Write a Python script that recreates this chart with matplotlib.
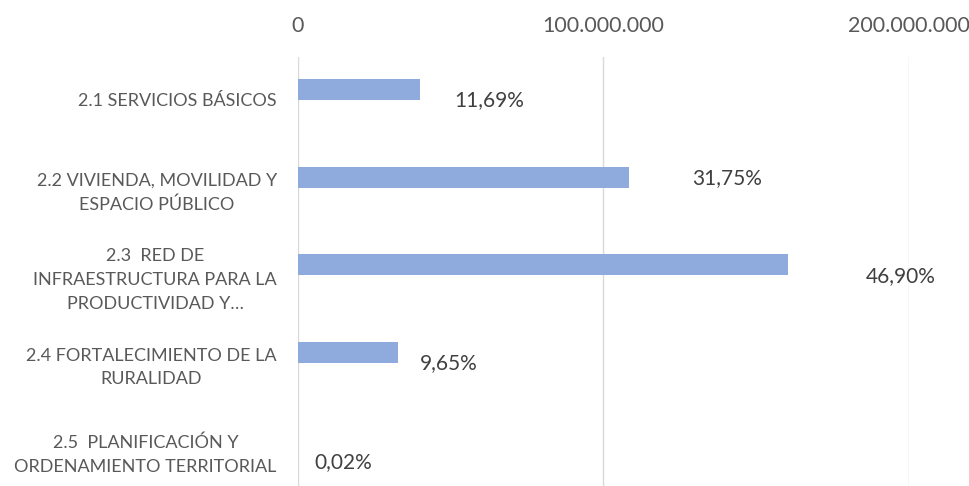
import matplotlib.pyplot as plt
import numpy as np

categories = [
    "2.1 SERVICIOS BÁSICOS",
    "2.2 VIVIENDA, MOVILIDAD Y\nESPACIO PÚBLICO",
    "2.3  RED DE\nINFRAESTRUCTURA PARA LA\nPRODUCTIVIDAD Y…",
    "2.4 FORTALECIMIENTO DE LA\nRURALIDAD",
    "2.5  PLANIFICACIÓN Y\nORDENAMIENTO TERRITORIAL",
]
amounts = [39_930_000, 108_550_000, 160_350_000, 32_950_000, 70_000]
pct_labels = ["11,69%", "31,75%", "46,90%", "9,65%", "0,02%"]
x_ticks = [0, 100_000_000, 200_000_000]

# hand-placed label offsets (pixels from bar end, like the original)
label_offsets = [(70, -10.5), (98, -1), (113, -11.5), (50, -11.5), (45, -23)]

BAR = "#8FAADC"
GRID = "#D9D9D9"
TICK_TXT = "#595959"
LABEL_TXT = "#404040"
FONT = "Lato"

plt.rcParams["font.family"] = [FONT, "DejaVu Sans"]

fig = plt.figure(figsize=(9.7, 4.86), dpi=100)
ax = fig.add_axes([0.3069, 0.0, 0.6299, 0.8827])

y = np.arange(len(categories))
bar_y = y - 0.114
ax.barh(bar_y, amounts, height=0.24, color=BAR, zorder=3)

for yy, val, txt, (dx, dy) in zip(bar_y, amounts, pct_labels, label_offsets):
    ax.annotate(txt, (val, yy), xytext=(dx, dy), textcoords="offset pixels",
                ha="center", va="center", fontsize=15, color=LABEL_TXT)

ax.set_xlim(0, 200_000_000)
ax.set_ylim(4.417, -0.486)
ax.set_xticks(x_ticks)
ax.set_xticklabels([f"{v:,}".replace(",", ".") for v in x_ticks])
ax.set_yticks(y)
ax.set_yticklabels(categories, multialignment="center", linespacing=1.6)

ax.xaxis.tick_top()
ax.tick_params(axis="x", length=0, pad=15, labelsize=15.5, labelcolor=TICK_TXT)
ax.tick_params(axis="y", length=0, pad=15, labelsize=13, labelcolor=TICK_TXT)

ax.grid(True, axis="x", color=GRID, lw=1.0, zorder=0)
ax.grid(False, axis="y")
for s in ax.spines.values():
    s.set_visible(False)

fig.savefig("out.png", dpi=100)
